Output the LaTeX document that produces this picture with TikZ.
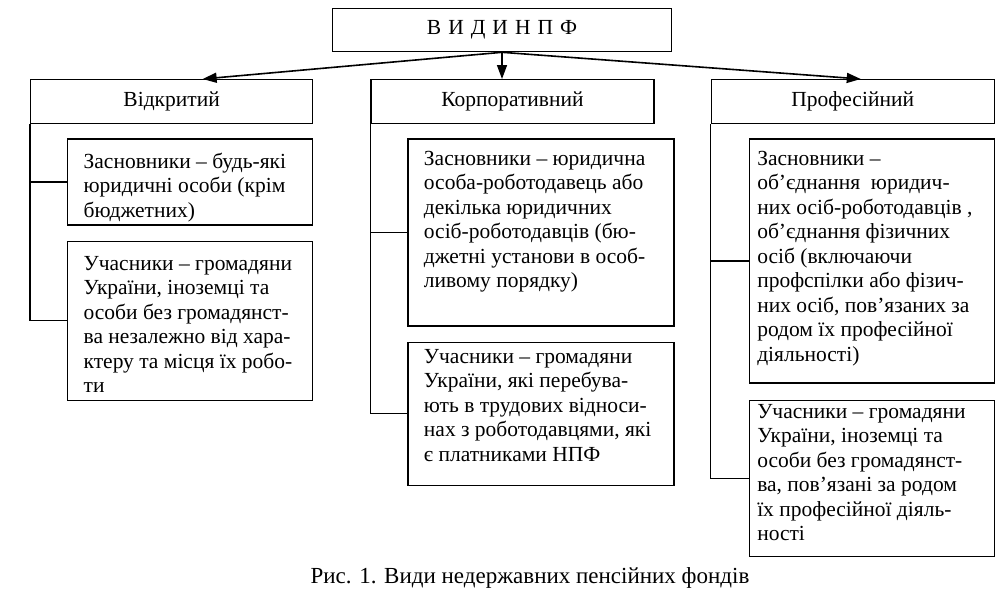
\documentclass[tikz,border=0pt]{standalone}
\usepackage{fontspec}
\setmainfont{Liberation Serif}
\usetikzlibrary{arrows.meta, positioning, calc}
\newcommand{\cellfont}{\fontsize{21.5pt}{24.5pt}\selectfont}
\newcommand{\cell}[5]{\parbox[c][#2][t]{#1}{\raggedright\leftskip=#3\relax\vspace*{#4}\strut #5}}
\tikzset{
  kind/.style={rectangle, draw=black, line width=1.3pt, inner sep=0pt, minimum width=282pt, minimum height=44pt, align=center, font=\cellfont},
  sub/.style={rectangle, draw=black, line width=1.3pt, inner sep=0pt, font=\cellfont},
  arrow/.style={-{Triangle[length=14pt, width=10pt]}, line width=1.6pt},
  link/.style={line width=1.3pt},
}
\begin{document}
\begin{tikzpicture}[x=1pt, y=1pt]
\useasboundingbox (0,0) rectangle (1000,-597);
\node[kind, minimum width=339pt, minimum height=43pt, anchor=north] (vidy) at (502,-8) {В\hspace{7pt}И\hspace{7pt}Д\hspace{7pt}И\hspace{7pt}Н\hspace{7pt}П\hspace{7pt}Ф};
\node[kind, anchor=north west] (vidkr) at (30,-79) {Відкритий};
\node[kind, right=57pt of vidkr, minimum width=283pt] (korp) {Корпоративний};
\node[kind, right=56pt of korp, minimum width=283pt] (prof) {Професійний};
\node[sub, below right=14pt and 37pt of vidkr.south west] (zas1) {\cell{245pt}{86pt}{16pt}{12pt}{Засновники – будь-які\\ юридичні особи (крім\\ бюджетних)}};
\node[sub, below=15pt of zas1] (uch1) {\cell{245pt}{159pt}{16pt}{12pt}{Учасники – громадяни\\ України, іноземці та\\ особи без громадянст-\\ ва незалежно від хара-\\ ктеру та місця їх робо-\\ ти}};
\node[sub, below right=14pt and 37pt of korp.south west] (zas2) {\cell{266pt}{187pt}{16pt}{9pt}{Засновники – юридична\\ особа-роботодавець або\\ декілька юридичних\\ осіб-роботодавців (бю-\\ джетні установи в особ-\\ ливому порядку)}};
\node[sub, below=15pt of zas2] (uch2) {\cell{266pt}{143pt}{16pt}{4pt}{Учасники – громадяни\\ України, які перебува-\\ ють в трудових відноси-\\ нах з роботодавцями, які\\ є платниками НПФ}};
\node[sub, below right=14pt and 38pt of prof.south west] (zas3) {\cell{245pt}{244pt}{8pt}{9pt}{Засновники –\\ об’єднання\ \ юридич-\\ них осіб-роботодавців ,\\ об’єднання фізичних\\ осіб (включаючи\\ профспілки або фізич-\\ них осіб, пов’язаних за\\ родом їх професійної\\ діяльності)}};
\node[sub, below=16pt of zas3] (uch3) {\cell{245pt}{156pt}{8pt}{1pt}{Учасники – громадяни\\ України, іноземці та\\ особи без громадянст-\\ ва, пов’язані за родом\\ їх професійної діяль-\\ ності}};
\node[font=\fontsize{23pt}{27pt}\selectfont] (caption) at (530,-578) {Рис. 1. Види недержавних пенсійних фондів};
\draw[arrow] (vidy.south) -- ([xshift=31pt]vidkr.north);
\draw[arrow] (vidy.south) -- (vidy.south |- korp.north);
\draw[arrow] (vidy.south) -- ([xshift=8pt]prof.north);
\draw[link] (vidkr.south west) |- (uch1.west);
\draw[link] (vidkr.south west |- zas1.west) -- (zas1.west);
\draw[link] (korp.south west) |- (uch2.west);
\draw[link] (korp.south west |- zas2.west) -- (zas2.west);
\draw[link] (prof.south west) |- (uch3.west);
\draw[link] (prof.south west |- zas3.west) -- (zas3.west);
\end{tikzpicture}
\end{document}
